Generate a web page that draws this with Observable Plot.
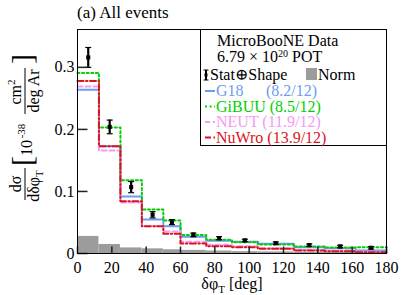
<!DOCTYPE html>
<html><head><meta charset="utf-8">
<script src="https://cdn.jsdelivr.net/npm/d3@7"></script>
<script src="https://cdn.jsdelivr.net/npm/@observablehq/plot@0.6"></script>
<style>body{margin:0;background:#fff}svg{display:block}svg text{font-family:'Liberation Serif','DejaVu Serif',serif}</style>
</head><body><div id="chart"></div>
<script>
// Bin edges of delta phi_T [deg]
const edges = [0, 12.5, 25, 37.5, 50, 60, 75, 90, 105, 126, 144, 162, 180];
// MicroBooNE data and uncertainties
const dataVals = [0.316, 0.204, 0.107, 0.0624, 0.0505, 0.030, 0.0247, 0.021, 0.0166, 0.0134, 0.0113, 0.0092];
const dataErr  = [0.016, 0.011, 0.009, 0.005, 0.004, 0.003, 0.0025, 0.002, 0.002, 0.002, 0.002, 0.002];
const normVals = [0.0275, 0.0145, 0.009, 0.0075, 0.006, 0.005, 0.004, 0.003, 0.0025, 0.002, 0.002, 0.002];
// Generator predictions
const g18Vals   = [0.264, 0.173, 0.092, 0.0548, 0.044, 0.027, 0.0205, 0.019, 0.0156, 0.0102, 0.0086, 0.0048];
const gibuuVals = [0.291, 0.203, 0.118, 0.071, 0.053, 0.030, 0.022, 0.018, 0.0145, 0.0113, 0.0097, 0.0102];
const neutVals  = [0.269, 0.166, 0.082, 0.044, 0.0355, 0.019, 0.014, 0.0118, 0.0086, 0.006, 0.005, 0.003];
const nuwroVals = [0.278, 0.173, 0.0844, 0.044, 0.0318, 0.016, 0.0118, 0.010, 0.0075, 0.0048, 0.0037, 0.002];
const modelNames = ["G18", "GiBUU", "NEUT", "NuWro"];
const modelChi2  = ["(8.2/12)", "(8.5/12)", "(11.9/12)", "(13.9/12)"];
const xTicks = [0, 20, 40, 60, 80, 100, 120, 140, 160, 180];
const yTicks = [0, 0.1, 0.2, 0.3];

const modelVals = [g18Vals, gibuuVals, neutVals, nuwroVals];
const colors = ["#6f9bf0", "#00d000", "#f59af5", "#d8141c"];
const dashes = [null, "2,2.6", "5,3", "6,2.5,1.5,2.5"];
const F = "'Liberation Serif', 'DejaVu Serif', serif";

const bins = dataVals.map((v, i) => ({
  x1: edges[i], x2: edges[i + 1], mid: (edges[i] + edges[i + 1]) / 2,
  v, lo: v - dataErr[i], hi: v + dataErr[i], norm: normVals[i]
}));
const stepRows = modelVals.map(vals => edges.map((e, i) => ({x: e, y: vals[Math.min(i, vals.length - 1)]})));

const hTick = {draw(ctx) { ctx.moveTo(0, 0); ctx.lineTo(10, 0); }};
const vTick = {draw(ctx) { ctx.moveTo(0, 0); ctx.lineTo(0, -7); }};
const cap = {draw(ctx) { ctx.moveTo(-3, 0); ctx.lineTo(3, 0); }};

const marks = [
  Plot.rectY(bins, {x1: "x1", x2: "x2", y: "norm", fill: "#9c9c9c"}),
  ...stepRows.map((rows, k) => Plot.line(rows, {x: "x", y: "y", curve: "step-after",
    stroke: colors[k], strokeWidth: 2, strokeDasharray: dashes[k]})),
  Plot.ruleX(bins, {x: "mid", y1: "lo", y2: "hi", stroke: "black", strokeWidth: 2.2}),
  Plot.dot(bins, {x: "mid", y: "lo", symbol: cap, stroke: "black", strokeWidth: 1.2, fill: "none"}),
  Plot.dot(bins, {x: "mid", y: "hi", symbol: cap, stroke: "black", strokeWidth: 1.2, fill: "none"}),
  Plot.dot(bins, {x: "mid", y: "v", symbol: "square", r: 2.3, fill: "black"}),
  Plot.dot(yTicks, {y: d => d, frameAnchor: "left", symbol: hTick, stroke: "#222", fill: "none"}),
  Plot.dot(xTicks, {x: d => d, frameAnchor: "bottom", symbol: vTick, stroke: "#222", fill: "none"}),
  Plot.frame({stroke: "black", strokeWidth: 1}),
  Plot.axisX({ticks: xTicks, tickSize: 0, tickPadding: 8, label: null, tickFormat: d => String(d),
    fontFamily: F, fontSize: 16, fontVariant: "normal"}),
  Plot.axisY({ticks: yTicks, tickSize: 0, tickPadding: 3, label: null, tickFormat: d => String(d),
    fontFamily: F, fontSize: 16, fontVariant: "normal"})
];

const chart = Plot.plot({
  width: 407, height: 295,
  marginLeft: 77, marginRight: 21, marginTop: 29, marginBottom: 42,
  x: {domain: [0, 180]},
  y: {domain: [0, 0.361]},
  style: {fontFamily: F, fontSize: "16px", background: "white", color: "black"},
  marks
});
document.getElementById("chart").appendChild(chart);

const svg = d3.select(chart);
svg.attr("font-family", F);
svg.selectAll("text").style("font-family", F).style("font-variant", "normal");

function txt(x, y, s, opts = {}) {
  return svg.append("text").attr("x", x).attr("y", y).style("font-family", F)
    .attr("font-size", opts.size || 16).attr("fill", opts.fill || "black")
    .attr("text-anchor", opts.anchor || "start").text(s);
}
// Title
txt(77, 18, "(a) All events", {size: 17});
// X label
const xl = txt(232, 289, "δφ", {anchor: "middle"});
xl.append("tspan").attr("font-size", 11).attr("dy", 4).text("T");
xl.append("tspan").attr("dy", -4).text(" [deg]");

// Rotated y label
function rot(sx, sy, s, size, anchor = "middle") {
  return svg.append("text").attr("transform", `translate(${sx},${sy}) rotate(-90)`)
    .style("font-family", F).attr("font-size", size).attr("text-anchor", anchor).text(s);
}
rot(21, 184, "dσ", 16);
svg.append("line").attr("x1", 25).attr("x2", 25).attr("y1", 168).attr("y2", 200).attr("stroke", "black").attr("stroke-width", 1);
const den = rot(39, 186, "dδφ", 16);
den.append("tspan").attr("font-size", 11).attr("dy", 4).text("T");
rot(32, 161, "[", 30);
rot(32, 148, "10", 16);
rot(25, 131, "-38", 11);
const num2 = rot(21, 92, "cm", 16);
num2.append("tspan").attr("font-size", 11).attr("dy", -6).text("2");
svg.append("line").attr("x1", 25).attr("x2", 25).attr("y1", 68).attr("y2", 114).attr("stroke", "black").attr("stroke-width", 1);
rot(39, 91, "deg Ar", 16);
rot(32, 59, "]", 30);

// Legend box
svg.append("rect").attr("x", 200.5).attr("y", 29.5).attr("width", 186).attr("height", 116)
  .attr("fill", "white").attr("stroke", "black").attr("stroke-width", 1);
txt(217, 46, "MicroBooNE Data");
const pot = txt(217, 62, "6.79 × 10");
pot.append("tspan").attr("font-size", 10).attr("dy", -5).text("20");
pot.append("tspan").attr("dy", 5).text(" POT");
// data icon
svg.append("line").attr("x1", 206).attr("x2", 206).attr("y1", 70).attr("y2", 80).attr("stroke", "black").attr("stroke-width", 2);
svg.append("line").attr("x1", 203.5).attr("x2", 208.5).attr("y1", 70).attr("y2", 70).attr("stroke", "black");
svg.append("line").attr("x1", 203.5).attr("x2", 208.5).attr("y1", 80).attr("y2", 80).attr("stroke", "black");
svg.append("rect").attr("x", 204.5).attr("y", 73.5).attr("width", 3).attr("height", 3).attr("fill", "black");
txt(210, 80, "Stat⊕Shape");
svg.append("rect").attr("x", 306).attr("y", 68).attr("width", 11).attr("height", 12).attr("fill", "#9c9c9c");
txt(318, 80, "Norm");
modelNames.forEach((name, k) => {
  const by = 96 + k * 15.5;
  svg.append("line").attr("x1", 205).attr("x2", 215).attr("y1", by - 5).attr("y2", by - 5)
    .attr("stroke", colors[k]).attr("stroke-width", 2).attr("stroke-dasharray", dashes[k]);
  const t = txt(216, by, name, {fill: colors[k]});
  if (k === 0) txt(266, by, modelChi2[k], {fill: colors[k]});
  else t.text(name + " " + modelChi2[k]);
});
</script></body></html>
